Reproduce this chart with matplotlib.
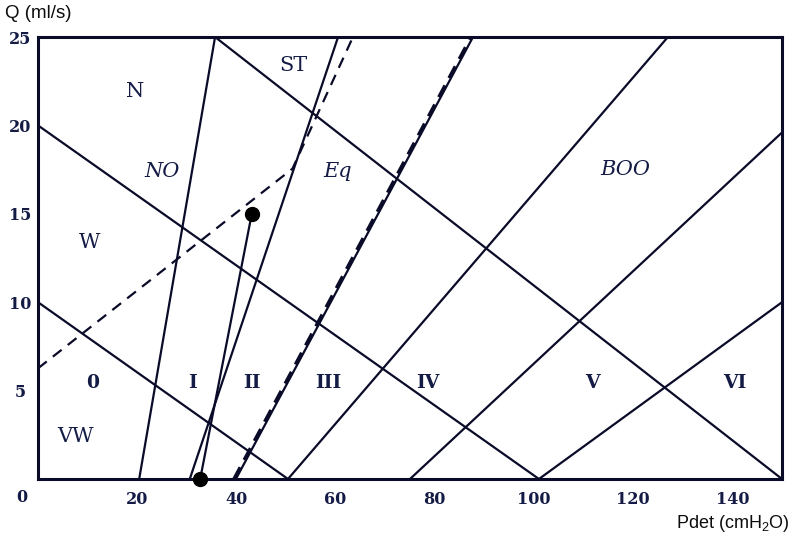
import matplotlib
matplotlib.use("Agg")
import matplotlib.pyplot as plt
import matplotlib.transforms as mtransforms

plt.rcParams["mathtext.fontset"] = "custom"
plt.rcParams["mathtext.rm"] = "Liberation Sans"

INK = "#0a0b28"
TXT = "#141b45"

# Grade boundaries (rising lines): (pdet, Q) start and end points
grade_lines = [
    [(20.4, 0.0), (35.7, 25.0)],
    [(30.6, 0.0), (60.5, 25.0)],
    [(50.4, 0.0), (127.0, 25.0)],
    [(75.0, 0.0), (150.0, 19.6)],
    [(101.0, 0.0), (150.0, 10.0)],
]
# Thick combined boundary (solid + dashed)
main_boundary = [(39.9, 0.0), (87.7, 25.0)]
# Contractility lines (falling)
contractility_lines = [
    [(0.0, 10.0), (50.4, 0.0)],
    [(0.0, 20.0), (101.0, 0.0)],
    [(35.7, 25.0), (150.0, 0.0)],
]
# Dashed boundary
dashed_p = [0.0, 51.3, 63.5]
dashed_q = [6.26, 17.55, 25.0]
# Pressure-flow trace
trace_p = [32.7, 43.1]
trace_q = [0.0, 15.0]

x_ticks = [20, 40, 60, 80, 100, 120, 140]
y_ticks = [5, 10, 15, 20, 25]

region_labels = [
    ("N", 19.6, 21.9, "normal"), ("NO", 25.0, 17.4, "italic"),
    ("W", 10.5, 13.4, "normal"), ("ST", 51.4, 23.4, "normal"),
    ("Eq", 60.5, 17.4, "italic"), ("BOO", 118.5, 17.5, "italic"),
    ("VW", 7.5, 2.4, "normal"),
]
grade_labels = [
    ("0", 11.1, 5.43), ("I", 31.2, 5.43), ("II", 43.1, 5.43),
    ("III", 58.5, 5.43), ("IV", 78.6, 5.43), ("V", 111.7, 5.43),
    ("VI", 140.5, 5.43),
]

fig = plt.figure(figsize=(7.92, 5.37), dpi=100)
ax = fig.add_axes([38 / 792, 58 / 537, 744 / 792, 442 / 537])
ax.set_xlim(0, 150)
ax.set_ylim(0, 25)

for (p0, q0), (p1, q1) in grade_lines + contractility_lines:
    ax.plot([p0, p1], [q0, q1], color=INK, lw=1.6, solid_capstyle="butt")

(p0, q0), (p1, q1) = main_boundary
ax.plot([p0, p1], [q0, q1], color=INK, lw=1.6)
shift = mtransforms.offset_copy(ax.transData, fig=fig, x=-2.0, y=0, units="dots")
ax.plot([p0, p1], [q0, q1], color=INK, lw=2.4, dashes=(4, 2.5), transform=shift)

ax.plot(dashed_p, dashed_q, color=INK, lw=1.6, dashes=(5, 3.5))

ax.plot(trace_p, trace_q, color=INK, lw=1.6)
ax.plot(trace_p, trace_q, "o", color="black", ms=10, clip_on=False, zorder=5)

for s, x, y, st in region_labels:
    ax.text(x, y, s, ha="center", va="center", fontsize=15, style=st,
            family="DejaVu Serif", color=TXT)
for s, x, y in grade_labels:
    ax.text(x, y, s, ha="center", va="center", fontsize=13.5, weight="bold",
            family="DejaVu Serif", color=TXT)

for sp in ax.spines.values():
    sp.set_linewidth(2.2)
    sp.set_color(INK)

ax.set_xticks(x_ticks)
ax.set_xticklabels([str(v) for v in x_ticks])
ax.set_yticks(y_ticks)
ax.set_yticklabels([str(v) for v in y_ticks])
ax.tick_params(axis="both", length=0, labelcolor=TXT, labelsize=11.5)
ax.tick_params(axis="x", pad=9)
ax.tick_params(axis="y", pad=13)
for lab in ax.get_xticklabels() + ax.get_yticklabels():
    lab.set_family("DejaVu Serif")
    lab.set_weight("bold")
for lab in ax.get_yticklabels():
    lab.set_horizontalalignment("center")

# shared origin label
fig.text(22 / 792, 1 - 497 / 537, "0", ha="center", va="center",
         fontsize=11.5, weight="bold", family="DejaVu Serif", color=TXT)

fig.text(5 / 792, 1 - 13 / 537, "Q (ml/s)", ha="left", va="center",
         fontsize=13.5, family="Liberation Sans", color="#0d0d0d")
fig.text(790 / 792, 1 - 523 / 537, r"Pdet (cmH$_2$O)", ha="right", va="center",
         fontsize=13, family="Liberation Sans", color="#0d0d0d")

fig.savefig("out.png", dpi=100)
